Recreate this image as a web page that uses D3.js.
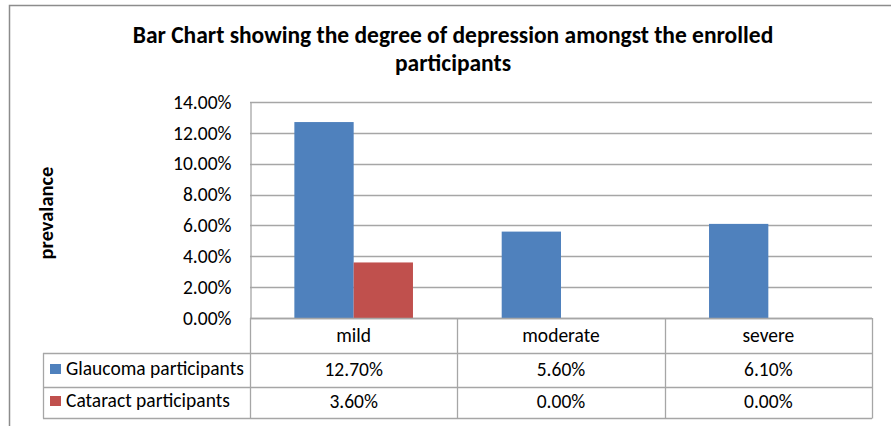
<!DOCTYPE html>
<html>
<head>
<meta charset="utf-8">
<script src="https://cdn.jsdelivr.net/npm/d3@7"></script>
<style>
  html, body { margin: 0; padding: 0; background: #fff; }
  svg { display: block; }
  text { font-family: Carlito, Calibri, Lato, "Open Sans", sans-serif; fill: #000; }
</style>
</head>
<body>
<svg id="chart" width="891" height="426"></svg>
<script>
// Depression degree by participant group
const categories = ["mild", "moderate", "severe"];
const seriesNames = ["Glaucoma participants", "Cataract participants"];
const glaucomaValues = [0.127, 0.056, 0.061];
const cataractValues = [0.036, 0.000, 0.000];
const yTicks = [0, 0.02, 0.04, 0.06, 0.08, 0.10, 0.12, 0.14];
const seriesColors = ["#4F81BD", "#C0504D"];

const seriesValues = [glaucomaValues, cataractValues];

const svg = d3.select("#chart");
const plot = { left: 250, right: 872, top: 102, bottom: 318 };
const table = { left: 43, rowTops: [318, 353, 387], bottom: 418 };
const gridColor = "#a6a6a6";
const bodySize = 19.5;

// Outer chart frame (runs past the right and bottom edges)
svg.append("path")
  .attr("d", "M9.5,430 V5.5 H900")
  .attr("fill", "none")
  .attr("stroke", "#8c8c8c")
  .attr("stroke-width", 1.5);

// Title
const title = svg.append("text")
  .attr("text-anchor", "middle")
  .attr("font-weight", "bold")
  .attr("font-size", 23.5);
title.append("tspan").attr("x", 453).attr("y", 43)
  .text("Bar Chart showing the degree of depression amongst the enrolled");
title.append("tspan").attr("x", 453).attr("y", 71)
  .text("participants");

// Scales
const x0 = d3.scaleBand().domain(categories).range([plot.left, plot.right]).padding(0);
const x1 = d3.scaleBand().domain(seriesNames).range([0, x0.bandwidth()])
  .paddingInner(0).paddingOuter(0.748);
const y = d3.scaleLinear().domain([0, 0.14]).range([plot.bottom, plot.top]);
const fmt = d3.format(".2%");

// Gridlines
svg.append("g")
  .selectAll("line")
  .data(yTicks)
  .join("line")
  .attr("x1", plot.left).attr("x2", plot.right)
  .attr("y1", d => Math.round(y(d)) + 0.5).attr("y2", d => Math.round(y(d)) + 0.5)
  .attr("stroke", gridColor).attr("stroke-width", 1.3);

// Y axis
const yAxis = svg.append("g")
  .attr("transform", `translate(${plot.left + 0.5},0)`)
  .call(d3.axisLeft(y).tickValues(yTicks).tickFormat(fmt).tickSize(0).tickPadding(19));
yAxis.select(".domain").attr("stroke", gridColor).attr("stroke-width", 1.3);
yAxis.selectAll("text")
  .attr("font-size", bodySize)
  .attr("font-family", "Carlito, Calibri, Lato, sans-serif")
  .attr("fill", "#000");

// Y axis title
svg.append("text")
  .attr("transform", "translate(53,213) rotate(-90)")
  .attr("text-anchor", "middle")
  .attr("font-weight", "bold")
  .attr("font-size", 20.5)
  .text("prevalance");

// Bars
const groups = svg.append("g")
  .selectAll("g")
  .data(categories)
  .join("g")
  .attr("transform", d => `translate(${x0(d)},0)`);

groups.selectAll("rect")
  .data((c, i) => seriesNames.map((s, k) => ({ series: s, k, value: seriesValues[k][i] })))
  .join("rect")
  .filter(d => d.value > 0)
  .attr("x", d => x1(d.series))
  .attr("y", d => y(d.value))
  .attr("width", x1.bandwidth())
  .attr("height", d => y(0) - y(d.value))
  .attr("fill", d => seriesColors[d.k]);

// Data table lines
const tbl = svg.append("g")
  .attr("stroke", gridColor).attr("stroke-width", 1.3).attr("fill", "none");
tbl.append("line")
  .attr("x1", plot.left).attr("x2", plot.right)
  .attr("y1", table.rowTops[0] + 0.5).attr("y2", table.rowTops[0] + 0.5);
[table.rowTops[1], table.rowTops[2], table.bottom].forEach(yy => tbl.append("line")
  .attr("x1", table.left).attr("x2", plot.right).attr("y1", yy + 0.5).attr("y2", yy + 0.5));
const bounds = categories.map(c => x0(c)).concat([plot.right]);
bounds.forEach(xx => tbl.append("line")
  .attr("x1", Math.round(xx) + 0.5).attr("x2", Math.round(xx) + 0.5)
  .attr("y1", table.rowTops[0]).attr("y2", table.bottom + 0.5));
tbl.append("line")
  .attr("x1", table.left + 0.5).attr("x2", table.left + 0.5)
  .attr("y1", table.rowTops[1]).attr("y2", table.bottom + 0.5);

// Header row: category names
svg.append("g")
  .selectAll("text")
  .data(categories)
  .join("text")
  .attr("x", d => x0(d) + x0.bandwidth() / 2)
  .attr("y", 342)
  .attr("text-anchor", "middle")
  .attr("font-size", bodySize)
  .text(d => d);

// Series rows: legend key + values
const rowBaselines = [376, 408];
seriesNames.forEach((name, k) => {
  const base = rowBaselines[k];
  svg.append("rect")
    .attr("x", 50).attr("y", base - 12).attr("width", 11).attr("height", 10)
    .attr("fill", seriesColors[k]);
  svg.append("text")
    .attr("x", 66).attr("y", base - 1)
    .attr("font-size", bodySize)
    .text(name);
  svg.append("g")
    .selectAll("text")
    .data(categories)
    .join("text")
    .attr("x", d => x0(d) + x0.bandwidth() / 2)
    .attr("y", base)
    .attr("text-anchor", "middle")
    .attr("font-size", bodySize)
    .text((d, i) => fmt(seriesValues[k][i]));
});
</script>
</body>
</html>
